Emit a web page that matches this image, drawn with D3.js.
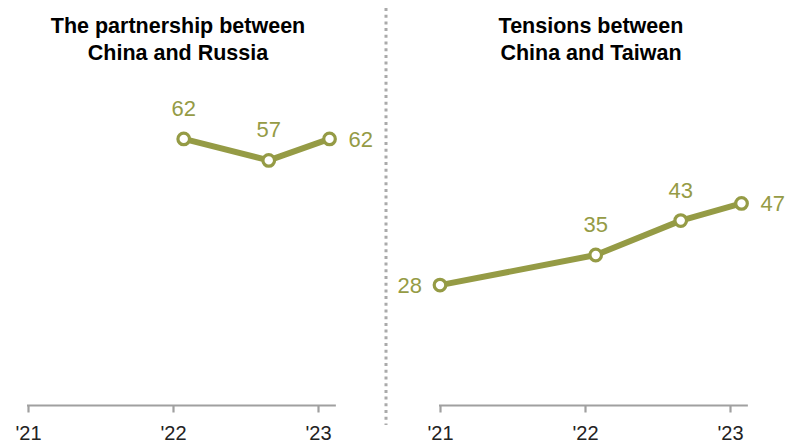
<!DOCTYPE html>
<html>
<head>
<meta charset="utf-8">
<script src="https://cdn.jsdelivr.net/npm/d3@7"></script>
<style>
  html, body { margin: 0; padding: 0; background: #fff; }
  svg { display: block; }
</style>
</head>
<body>
<svg id="chart" width="796" height="444"></svg>
<script>
// Panel titles (two lines each)
const titles = [
  ["The partnership between", "China and Russia"],
  ["Tensions between", "China and Taiwan"]
];

// Survey dates and percentages per panel
const russiaDates = ["2022-01-28", "2022-08-30", "2023-01-30"];
const russiaValues = [62, 57, 62];

const taiwanDates = ["2021-01-01", "2022-01-28", "2022-08-30", "2023-01-30"];
const taiwanValues = [28, 35, 43, 47];

// Axis ticks
const tickYears = ["2021-01-01", "2022-01-01", "2023-01-01"];
const tickLabels = ["'21", "'22", "'23"];

// Label placement for each point: above, right or left
const russiaLabelPos = ["above", "above", "right"];
const taiwanLabelPos = ["left", "above", "above", "right"];

const parse = d3.utcParse("%Y-%m-%d");
const svg = d3.select("#chart");

const lineColor = "#959b45";
const axisColor = "#a0a0a0";

const y = d3.scaleLinear().domain([0, 100]).range([405.5, -24.5]);

const panels = [
  { title: titles[0], dates: russiaDates, values: russiaValues, pos: russiaLabelPos, x0: 28, titleX: 178 },
  { title: titles[1], dates: taiwanDates, values: taiwanValues, pos: taiwanLabelPos, x0: 440, titleX: 591 }
];

panels.forEach(p => {
  const x = d3.scaleUtc()
    .domain([parse("2021-01-01"), parse("2023-01-01")])
    .range([p.x0, p.x0 + 290]);

  const g = svg.append("g");

  // Title
  const t = g.append("text")
    .attr("x", p.titleX)
    .attr("text-anchor", "middle")
    .style("font-family", "'Liberation Sans', Arial, sans-serif")
    .style("font-weight", "bold")
    .style("font-size", "21.5px")
    .style("fill", "#000");
  p.title.forEach((line, i) => {
    t.append("tspan").attr("x", p.titleX).attr("y", 32.5 + i * 27).text(line);
  });

  // X axis
  const axis = d3.axisBottom(x)
    .tickValues(tickYears.map(parse))
    .tickFormat((d, i) => tickLabels[i])
    .tickSize(7)
    .tickSizeOuter(0)
    .tickPadding(12.8);

  const ax = g.append("g")
    .attr("transform", `translate(0,${y(0)})`)
    .call(axis);
  ax.select(".domain")
    .attr("d", `M${x.range()[0] - 1},0H${x(parse("2023-02-15"))}`)
    .attr("stroke", axisColor)
    .attr("stroke-width", 2.2);
  ax.selectAll(".tick line").attr("stroke", axisColor).attr("stroke-width", 2.2);
  ax.selectAll(".tick text")
    .style("font-family", "'Liberation Sans', Arial, sans-serif")
    .style("font-size", "20px")
    .style("fill", "#222");

  const pts = p.dates.map((d, i) => ({ date: parse(d), value: p.values[i], pos: p.pos[i] }));

  // Line
  g.append("path")
    .datum(pts)
    .attr("d", d3.line().x(d => x(d.date)).y(d => y(d.value)))
    .attr("fill", "none")
    .attr("stroke", lineColor)
    .attr("stroke-width", 6)
    .attr("stroke-linejoin", "round");

  // Markers
  g.selectAll("circle.pt")
    .data(pts)
    .join("circle")
    .attr("class", "pt")
    .attr("cx", d => x(d.date))
    .attr("cy", d => y(d.value))
    .attr("r", 5.8)
    .attr("fill", "#fff")
    .attr("stroke", lineColor)
    .attr("stroke-width", 3.2);

  // Value labels
  g.selectAll("text.val")
    .data(pts)
    .join("text")
    .attr("class", "val")
    .attr("x", d => x(d.date) + (d.pos === "right" ? 19 : d.pos === "left" ? -18 : 0))
    .attr("y", d => y(d.value) + (d.pos === "above" ? -23 : 8))
    .attr("text-anchor", d => d.pos === "right" ? "start" : d.pos === "left" ? "end" : "middle")
    .style("font-family", "'Liberation Sans', Arial, sans-serif")
    .style("font-size", "22px")
    .style("fill", lineColor)
    .text(d => d.value);
});

// Dotted divider between panels
svg.append("line")
  .attr("x1", 386).attr("x2", 386)
  .attr("y1", 8).attr("y2", 425)
  .attr("stroke", "#aaa")
  .attr("stroke-width", 3)
  .attr("stroke-dasharray", "3,3.7");
</script>
</body>
</html>
